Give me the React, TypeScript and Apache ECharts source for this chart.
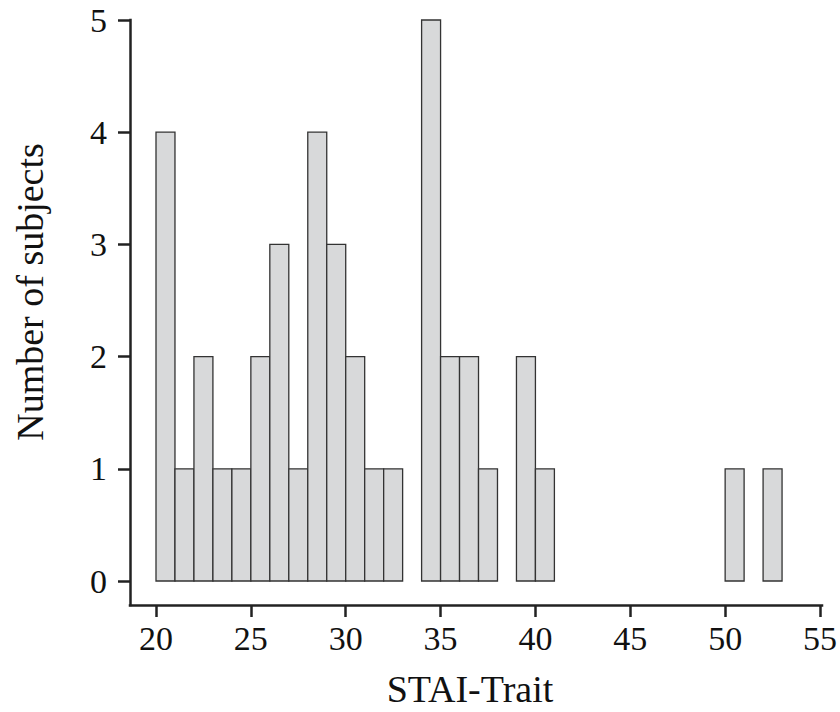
import React, { useEffect, useRef } from "react";
import * as echarts from "echarts";

// Histogram bins (left edge, width 1) and counts
const binStarts = [20, 21, 22, 23, 24, 25, 26, 27, 28, 29, 30, 31, 32, 33, 34, 35, 36, 37, 38, 39, 40, 41, 42, 43, 44, 45, 46, 47, 48, 49, 50, 51, 52];
const counts = [4, 1, 2, 1, 1, 2, 3, 1, 4, 3, 2, 1, 1, 0, 5, 2, 2, 1, 0, 2, 1, 0, 0, 0, 0, 0, 0, 0, 0, 0, 1, 0, 1];
const binWidth = 1;
const xTicks = [20, 25, 30, 35, 40, 45, 50, 55];
const yTicks = [0, 1, 2, 3, 4, 5];
const xTitle = "STAI-Trait";
const yTitle = "Number of subjects";

const FONT = "'Liberation Serif', 'Times New Roman', serif";
const AXIS_COLOR = "#222";

export default function App() {
  const ref = useRef<HTMLDivElement>(null);
  useEffect(() => {
    if (!ref.current) return;
    const chart = echarts.init(ref.current, null, { renderer: "svg" });
    const data = binStarts.map((s, i) => [s, counts[i], s + binWidth]);
    chart.setOption({
      animation: false,
      backgroundColor: "#fff",
      grid: [
        { left: 156, right: 18, top: 20, bottom: 131 },
        { left: 130, right: 18, top: 20, bottom: 107 },
      ],
      xAxis: [
        {
          type: "value",
          gridIndex: 0,
          position: "bottom",
          min: xTicks[0],
          max: xTicks[xTicks.length - 1],
          interval: 5,
          offset: 24,
          axisLine: { show: false, onZero: false },
          axisTick: { show: true, length: 12, lineStyle: { color: AXIS_COLOR, width: 2.5 } },
          axisLabel: { show: true, fontSize: 34, fontFamily: FONT, color: "#111", margin: 16 },
          splitLine: { show: false },
        },
        {
          type: "value",
          gridIndex: 1,
          min: 0,
          max: 1,
          axisLine: { show: true, onZero: false, lineStyle: { color: AXIS_COLOR, width: 2.5, cap: "square" } },
          axisTick: { show: false },
          axisLabel: { show: false },
          splitLine: { show: false },
        },
      ],
      yAxis: [
        {
          type: "value",
          gridIndex: 0,
          position: "left",
          min: yTicks[0],
          max: yTicks[yTicks.length - 1],
          interval: 1,
          offset: 26,
          axisLine: { show: false, onZero: false },
          axisTick: { show: true, length: 12, lineStyle: { color: AXIS_COLOR, width: 2.5 } },
          axisLabel: { show: true, fontSize: 34, fontFamily: FONT, color: "#111", margin: 23 },
          splitLine: { show: false },
        },
        {
          type: "value",
          gridIndex: 1,
          min: 0,
          max: 1,
          axisLine: { show: true, onZero: false, lineStyle: { color: AXIS_COLOR, width: 2.5, cap: "square" } },
          axisTick: { show: false },
          axisLabel: { show: false },
          splitLine: { show: false },
        },
      ],
      graphic: [
        {
          type: "text",
          x: 470,
          y: 689,
          style: {
            text: xTitle,
            font: `38px ${FONT}`,
            fill: "#111",
            textAlign: "center",
            textVerticalAlign: "middle",
          },
        },
        {
          type: "text",
          x: 30,
          y: 292,
          rotation: Math.PI / 2,
          style: {
            text: yTitle,
            font: `38px ${FONT}`,
            fill: "#111",
            textAlign: "center",
            textVerticalAlign: "middle",
          },
        },
      ],
      series: [
        {
          type: "custom",
          xAxisIndex: 0,
          yAxisIndex: 0,
          encode: { x: [0, 2], y: 1 },
          data,
          renderItem: (params: any, api: any) => {
            const x0 = api.value(0);
            const y = api.value(1);
            const x1 = api.value(2);
            if (!y) return null;
            const p0 = api.coord([x0, y]);
            const p1 = api.coord([x1, 0]);
            return {
              type: "rect",
              shape: { x: p0[0], y: p0[1], width: p1[0] - p0[0], height: p1[1] - p0[1] },
              style: { fill: "#d8d9da", stroke: "#333", lineWidth: 1.3 },
            };
          },
        },
      ],
    });
    return () => chart.dispose();
  }, []);
  return (
    <div
      ref={ref}
      style={{ position: "fixed", left: 0, top: 0, width: 840, height: 712 }}
    />
  );
}
